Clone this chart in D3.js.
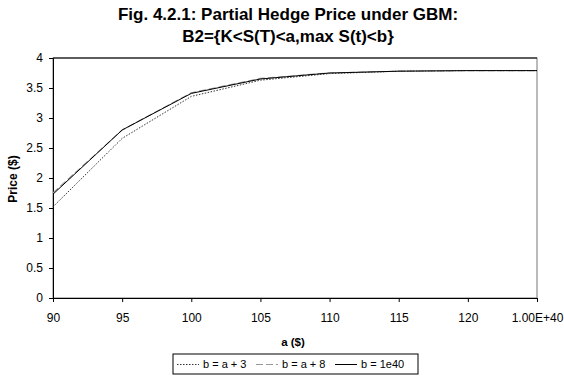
<!DOCTYPE html>
<html>
<head>
<meta charset="utf-8">
<script src="https://cdn.jsdelivr.net/npm/d3@7"></script>
<style>
  body { margin: 0; background: #fff; }
  svg { font-family: Arial, "Liberation Sans", sans-serif; }
</style>
</head>
<body>
<script>
// chart data
const categories = ["90", "95", "100", "105", "110", "115", "120", "1.00E+40"];
const bA3 = [1.52, 2.66, 3.36, 3.63, 3.74, 3.78, 3.79, 3.79];
const bA8 = [1.75, 2.80, 3.42, 3.66, 3.75, 3.78, 3.79, 3.79];
const b1e40 = [1.73, 2.80, 3.41, 3.65, 3.75, 3.78, 3.79, 3.79];
const yTicks = [0, 0.5, 1, 1.5, 2, 2.5, 3, 3.5, 4];

const series = [
  {name: "b = a + 3", values: bA3, stroke: "#333", dash: "1.5,1.5", width: 1},
  {name: "b = a + 8", values: bA8, stroke: "#999", dash: "7,3", width: 1.2},
  {name: "b = 1e40", values: b1e40, stroke: "#000", dash: null, width: 1}
];

const width = 564, height = 380;
const margin = {left: 53, right: 27, top: 58, bottom: 82};

const svg = d3.select("body").append("svg")
    .attr("width", width)
    .attr("height", height);

const x = d3.scalePoint()
    .domain(categories)
    .range([margin.left, width - margin.right]);

const y = d3.scaleLinear()
    .domain([0, 4])
    .range([height - margin.bottom, margin.top]);

// plot area frame
svg.append("rect")
    .attr("x", margin.left)
    .attr("y", margin.top)
    .attr("width", width - margin.right - margin.left)
    .attr("height", height - margin.bottom - margin.top)
    .attr("fill", "none")
    .attr("stroke", "#777")
    .attr("stroke-width", 1);
svg.append("line")
    .attr("x1", margin.left).attr("x2", width - margin.right)
    .attr("y1", margin.top).attr("y2", margin.top)
    .attr("stroke", "#000");

// axes
svg.append("g")
    .attr("transform", `translate(0,${height - margin.bottom})`)
    .call(d3.axisBottom(x).tickSize(4).tickPadding(11))
    .call(g => g.selectAll("text").attr("font-size", 12).attr("fill", "#000"))
    .call(g => g.select(".domain").attr("stroke", "#000"));

svg.append("g")
    .attr("transform", `translate(${margin.left},0)`)
    .call(d3.axisLeft(y).tickValues(yTicks).tickFormat(d3.format("")).tickSize(4).tickPadding(6))
    .call(g => g.selectAll("text").attr("font-size", 12).attr("fill", "#000"))
    .call(g => g.select(".domain").attr("stroke", "#000"));

// lines
const line = d3.line()
    .x((d, i) => x(categories[i]))
    .y(d => y(d));

svg.append("g")
    .attr("fill", "none")
  .selectAll("path")
  .data(series)
  .join("path")
    .attr("stroke", d => d.stroke)
    .attr("stroke-width", d => d.width)
    .attr("stroke-dasharray", d => d.dash)
    .attr("d", d => line(d.values));

// titles
svg.append("text")
    .attr("x", 288).attr("y", 20)
    .attr("text-anchor", "middle")
    .attr("font-size", 17).attr("font-weight", "bold")
    .text("Fig. 4.2.1: Partial Hedge Price under GBM:");
svg.append("text")
    .attr("x", 288).attr("y", 42)
    .attr("text-anchor", "middle")
    .attr("font-size", 17).attr("font-weight", "bold")
    .text("B2={K<S(T)<a,max S(t)<b}");

svg.append("text")
    .attr("transform", "translate(17,179) rotate(-90)")
    .attr("text-anchor", "middle")
    .attr("font-size", 12).attr("font-weight", "bold")
    .text("Price ($)");

svg.append("text")
    .attr("x", 293).attr("y", 346)
    .attr("text-anchor", "middle")
    .attr("font-size", 11.5).attr("font-weight", "bold")
    .text("a ($)");

// legend
const legend = svg.append("g").attr("transform", "translate(173,354)");
legend.append("rect")
    .attr("width", 245).attr("height", 20)
    .attr("fill", "#fff").attr("stroke", "#000");
const itemX = [4, 83, 162];
const item = legend.selectAll("g.item")
  .data(series)
  .join("g")
    .attr("class", "item")
    .attr("transform", (d, i) => `translate(${itemX[i]},10.5)`);
item.append("line")
    .attr("x1", 0).attr("x2", 22)
    .attr("stroke", d => d.stroke)
    .attr("stroke-width", d => d.width)
    .attr("stroke-dasharray", d => d.dash);
item.append("text")
    .attr("x", 26).attr("dy", "0.35em")
    .attr("font-size", 11)
    .text(d => d.name);
</script>
</body>
</html>
